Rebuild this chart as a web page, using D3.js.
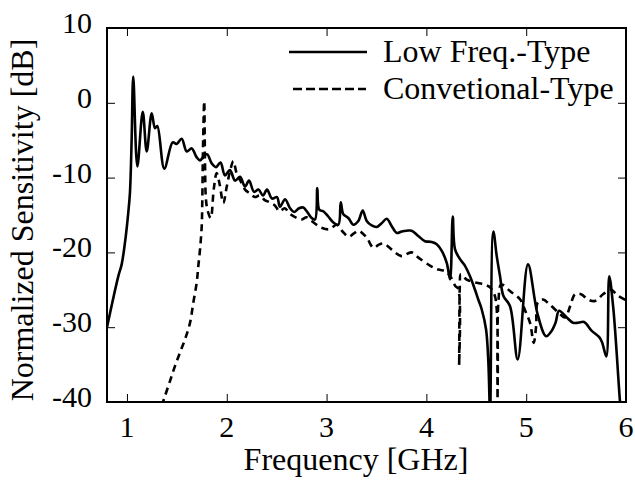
<!DOCTYPE html>
<html>
<head>
<meta charset="utf-8">
<script src="https://cdn.jsdelivr.net/npm/d3@7"></script>
<style>
  html, body { margin: 0; padding: 0; background: #fff; }
  svg { display: block; }
</style>
</head>
<body>
<svg id="chart" width="635" height="480"></svg>
<script>
// ---- data ----
const lowFreqF = [0.80,0.913,0.947,0.98,1.013,1.03,1.047,1.063,1.104,1.158,1.198,1.248,1.281,1.304,1.374,1.458,1.498,1.548,1.599,1.649,1.699,1.732,1.777,1.805,1.849,1.892,1.937,1.982,2.032,2.083,2.133,2.183,2.223,2.273,2.318,2.363,2.403,2.453,2.503,2.533,2.584,2.634,2.674,2.724,2.767,2.801,2.851,2.884,2.907,2.927,2.967,3.017,3.068,3.118,3.142,3.168,3.218,3.268,3.318,3.362,3.402,3.452,3.502,3.552,3.603,3.653,3.703,3.753,3.803,3.853,3.919,3.986,4.054,4.104,4.154,4.204,4.237,4.264,4.287,4.337,4.387,4.437,4.487,4.520,4.554,4.598,4.621,4.638,4.642,4.671,4.705,4.738,4.771,4.838,4.915,5.018,5.113,5.199,5.249,5.294,5.329,5.399,5.469,5.522,5.580,5.657,5.730,5.760,5.803,5.832,5.873,5.940,5.96];
const lowFreqDB = [-30,-23.2,-21.6,-18.7,-14.7,-12,-4.9,3.5,-8.5,-1.2,-6.5,-1.4,-3.4,-3.1,-8.8,-5.3,-5.5,-4.8,-6.5,-6.1,-7.3,-7.7,-7.0,-6.9,-8.1,-8.6,-8.0,-9.7,-9.0,-10.4,-9.9,-11.2,-10.4,-11.9,-11.6,-12.4,-11.6,-12.8,-12.6,-13.9,-12.9,-14.1,-14.6,-14.1,-14.0,-14.5,-15.4,-15.6,-11.4,-14.3,-14.5,-15.2,-16.0,-16.3,-13.3,-14.9,-15.4,-16.3,-15.8,-14.4,-15.8,-16.4,-16.6,-16.1,-15.5,-16.5,-17.4,-17.2,-17.1,-17.1,-17.8,-18.5,-18.6,-18.9,-19.8,-21.4,-23.6,-15.2,-19.6,-20.9,-21.8,-23.2,-25.0,-26.3,-27.6,-30.3,-34.7,-42,-40,-17.2,-20.5,-23.2,-25.8,-27.2,-34.3,-21.6,-28.2,-31.2,-30.6,-29.4,-27.8,-28.6,-29.4,-29.4,-29.3,-30.5,-31.3,-32.0,-33.9,-23.2,-27.5,-40,-43];

const convF = [1.348,1.381,1.431,1.481,1.531,1.582,1.632,1.665,1.699,1.715,1.732,1.749,1.755,1.762,1.774,1.782,1.792,1.81,1.839,1.87,1.899,1.93,1.965,2.0,2.035,2.066,2.10,2.14,2.183,2.23,2.28,2.33,2.38,2.43,2.48,2.53,2.58,2.63,2.70,2.75,2.80,2.85,2.95,3.03,3.10,3.16,3.22,3.27,3.32,3.40,3.47,3.52,3.57,3.65,3.75,3.85,3.92,4.04,4.12,4.19,4.24,4.29,4.32,4.328,4.335,4.345,4.40,4.48,4.58,4.64,4.69,4.712,4.722,4.75,4.84,4.94,4.99,5.04,5.075,5.10,5.115,5.17,5.23,5.32,5.39,5.44,5.49,5.55,5.62,5.69,5.77,5.85,5.92,6.0];
const convDB = [-40.5,-39.2,-37.2,-35.2,-33.4,-31.6,-29.4,-26.7,-24.0,-21.8,-19.6,-16.5,-12.9,-6,0.2,-8,-13,-14.5,-15.4,-11.5,-9.4,-11,-13.4,-11.2,-9,-7.8,-9.5,-10.5,-11.6,-12.1,-12.6,-12.4,-13.0,-13.3,-13.7,-14.5,-14.1,-14.8,-15.4,-15.6,-15.3,-15.8,-16.7,-16.9,-16.3,-17.2,-17.9,-17.5,-17.1,-18.0,-19.4,-19.0,-18.8,-19.6,-20.5,-20.0,-20.7,-21.8,-22.3,-22.5,-23.2,-24.5,-24.9,-35.1,-24.5,-22.9,-23.6,-24.0,-24.3,-24.7,-26.0,-42,-26.5,-24.3,-25.2,-26.3,-27.8,-29.5,-32.1,-29.8,-26.7,-26.3,-26.9,-28.0,-28.7,-27.2,-25.6,-25.6,-26.3,-26.5,-25.6,-25.0,-25.8,-26.4];

const xTicks = [1, 2, 3, 4, 5, 6];
const yTicks = [10, 0, -10, -20, -30, -40];
const seriesNames = ["Low Freq.-Type", "Convetional-Type"];
const xTitle = "Frequency [GHz]";
const yTitle = "Normalized Sensitivity [dB]";

// ---- layout ----
const FONT = "Liberation Serif, LiberationSerif, Times New Roman, Times, Tinos, Nimbus Roman, FreeSerif, Noto Serif, DejaVu Serif, serif";
const L = 107, R = 626, T = 28, B = 402;
const svg = d3.select("#chart").style("font-family", FONT);
const x = d3.scaleLinear().domain([0.8, 6]).range([L, R]);
const y = d3.scaleLinear().domain([-40, 10]).range([B, T]);

svg.append("defs").append("clipPath").attr("id", "clip")
  .append("rect").attr("x", L).attr("y", T).attr("width", R - L).attr("height", B - T);

// ticks (inward, all four sides) via d3 axes
const tickLen = 8;
function styleTicks(g) {
  g.select(".domain").remove();
  g.selectAll("line").attr("stroke", "#000").attr("stroke-width", 1);
}
svg.append("g").attr("transform", `translate(0,${B})`)
  .call(d3.axisTop(x).tickValues(xTicks).tickSize(tickLen).tickFormat("")).call(styleTicks);
svg.append("g").attr("transform", `translate(0,${T})`)
  .call(d3.axisBottom(x).tickValues(xTicks.filter(v => v < 6)).tickSize(tickLen).tickFormat("")).call(styleTicks);
svg.append("g").attr("transform", `translate(${L},0)`)
  .call(d3.axisRight(y).tickValues(yTicks.filter(v => v > -40 && v < 10)).tickSize(tickLen).tickFormat("")).call(styleTicks);
svg.append("g").attr("transform", `translate(${R},0)`)
  .call(d3.axisLeft(y).tickValues(yTicks.filter(v => v > -40 && v < 10)).tickSize(tickLen).tickFormat("")).call(styleTicks);

// tick labels
svg.append("g").selectAll("text").data(xTicks).join("text")
  .attr("x", d => x(d)).attr("y", B + 35).style("font-family", FONT)
  .attr("text-anchor", "middle").attr("font-size", 30).text(d => d);
svg.append("g").selectAll("text").data(yTicks).join("text")
  .attr("x", L - 15).attr("y", d => y(d) + 5).style("font-family", FONT)
  .attr("text-anchor", "end").attr("font-size", 30).text(d => d);

// axis titles
svg.append("text").attr("x", 356).attr("y", 470).style("font-family", FONT)
  .attr("text-anchor", "middle").attr("font-size", 32).text(xTitle);
svg.append("text").attr("transform", "translate(33,220) rotate(-90)").style("font-family", FONT)
  .attr("text-anchor", "middle").attr("font-size", 32).text(yTitle);

// curves
const line = d3.line().x(d => x(d[0])).y(d => y(d[1])).curve(d3.curveCatmullRom.alpha(0.5));
const plot = svg.append("g").attr("clip-path", "url(#clip)");
plot.append("path").datum(convF.map((f, i) => [f, convDB[i]]))
  .attr("d", line).attr("fill", "none").attr("stroke", "#000")
  .attr("stroke-width", 2.6).attr("stroke-dasharray", "7,5").attr("stroke-linejoin", "round");
plot.append("path").datum(lowFreqF.map((f, i) => [f, lowFreqDB[i]]))
  .attr("d", line).attr("fill", "none").attr("stroke", "#000")
  .attr("stroke-width", 2.6).attr("stroke-linejoin", "round");

// frame
svg.append("rect").attr("x", L).attr("y", T).attr("width", R - L).attr("height", B - T)
  .attr("fill", "none").attr("stroke", "#000").attr("stroke-width", 2);

// legend
const leg = svg.append("g");
leg.append("line").attr("x1", 289).attr("x2", 367).attr("y1", 52).attr("y2", 52)
  .attr("stroke", "#000").attr("stroke-width", 2.6);
leg.append("text").attr("x", 383).attr("y", 62).style("font-family", FONT)
  .attr("font-size", 32).text(seriesNames[0]);
leg.append("line").attr("x1", 293).attr("x2", 366).attr("y1", 89).attr("y2", 89)
  .attr("stroke", "#000").attr("stroke-width", 2.6).attr("stroke-dasharray", "9,4");
leg.append("text").attr("x", 383).attr("y", 99).style("font-family", FONT)
  .attr("font-size", 32).text(seriesNames[1]);
</script>
</body>
</html>
